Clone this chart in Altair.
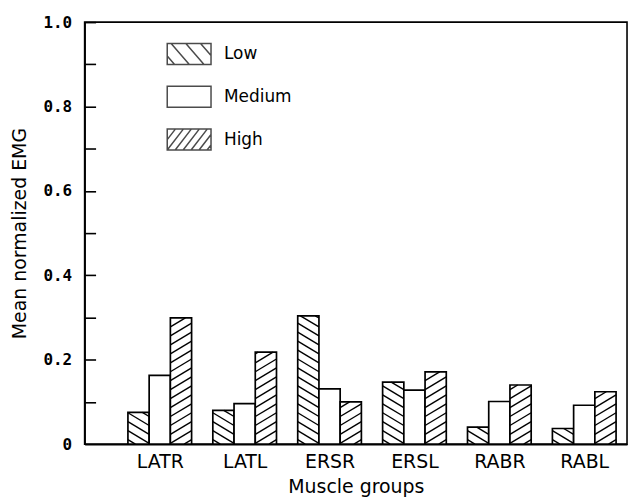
import json
import altair as alt
import pandas as pd

# ---- data ----
categories = ["LATR", "LATL", "ERSR", "ERSL", "RABR", "RABL"]
levels = ["Low", "Medium", "High"]
low = [0.075, 0.080, 0.304, 0.147, 0.040, 0.037]
medium = [0.163, 0.096, 0.131, 0.128, 0.101, 0.092]
high = [0.299, 0.218, 0.100, 0.171, 0.140, 0.124]
y_label_values = [0, 0.2, 0.4, 0.6, 0.8, 1.0]
y_tick_values = [0.1, 0.2, 0.3, 0.4, 0.5, 0.6, 0.7, 0.8, 0.9, 1.0]

# ---- layout / style ----
W, H = 545, 424
X_MIN, X_MAX = -0.885, 5.504
PX_X = W / (X_MAX - X_MIN)
PX_Y = H / 1.0
BAR_W = 0.25
offsets = {"Low": -0.25, "Medium": 0.0, "High": 0.25}
hatch_kind = {"Low": "back", "Medium": None, "High": "fwd"}
SANS = "DejaVu Sans"


def hatch(w, h, kind, slope, step, phase=0.5):
    """diagonal segments clipped to box [0,w]x[0,h] (y up)"""
    segs = []
    if kind is None:
        return segs
    if kind == "fwd":
        c = -slope * w + step * phase
        while c < h:
            x0 = max(0.0, -c / slope)
            x1 = min(w, (h - c) / slope)
            if x1 - x0 > 1e-6:
                segs.append((x0, slope * x0 + c, x1, slope * x1 + c))
            c += step
    else:
        c = step * phase
        while c < h + slope * w:
            x0 = max(0.0, (c - h) / slope)
            x1 = min(w, c / slope)
            if x1 - x0 > 1e-6:
                segs.append((x0, c - slope * x0, x1, c - slope * x1))
            c += step
    return segs


series = {"Low": low, "Medium": medium, "High": high}
bar_rows, hatch_rows = [], []
for lev in levels:
    for i, (cat, v) in enumerate(zip(categories, series[lev])):
        xl = i + offsets[lev] - BAR_W / 2
        xr = i + offsets[lev] + BAR_W / 2
        bar_rows.append(dict(category=cat, level=lev, x0=xl, x1=xr, value=v, zero=0.0))
        for (a, b, c, d) in hatch((xr - xl) * PX_X, v * PX_Y, hatch_kind[lev], 0.6, 9.0):
            hatch_rows.append(dict(hx=xl + a / PX_X, hy=b / PX_Y,
                                   hx2=xl + c / PX_X, hy2=d / PX_Y))
bars_df = pd.DataFrame(bar_rows)
hatch_df = pd.DataFrame(hatch_rows)

# legend symbols as SVG paths (unit = sqrt(size)/2 px)
SYM = 1600
s = SYM ** 0.5 / 2
bw, bh = 44.0, 21.0
legend_hatch = {"Low": ("back", 1.15, 17.0), "Medium": (None, 1, 1), "High": ("fwd", 1.3, 10.4)}
paths = []
for lev in levels:
    k, sl, st = legend_hatch[lev]
    p = f"M{-bw/2/s:.3f},{-bh/2/s:.3f}H{bw/2/s:.3f}V{bh/2/s:.3f}H{-bw/2/s:.3f}Z"
    for (a, b, c, d) in hatch(bw, bh, k, sl, st):
        p += (f"M{(a-bw/2)/s:.3f},{(bh/2-b)/s:.3f}"
              f"L{(c-bw/2)/s:.3f},{(bh/2-d)/s:.3f}")
    paths.append(p)

xscale = alt.Scale(domain=[X_MIN, X_MAX], nice=False, zero=False)
yscale = alt.Scale(domain=[0, 1], nice=False)
label_expr = json.dumps(categories) + "[round(datum.value)]"

x_axis = alt.Axis(values=list(range(len(categories))), labelExpr=label_expr,
                  ticks=False, grid=False, domainColor="black", domainWidth=1.6,
                  labelFont=SANS, labelFontSize=19, labelColor="black",
                  labelPadding=9, title="Muscle groups", titleFont=SANS,
                  titleFontSize=19, titleFontWeight="normal", titleColor="black",
                  titlePadding=6)

bars = alt.Chart(bars_df).mark_bar(fill="white", stroke="black", strokeWidth=1.7).encode(
    x=alt.X("x0:Q", scale=xscale, axis=x_axis),
    x2="x1:Q",
    y=alt.Y("value:Q", scale=yscale,
            axis=alt.Axis(values=y_label_values,
                          labelExpr="datum.value == 0 ? '0' : format(datum.value, '.1f')",
                          ticks=False, grid=False, domainColor="black", domainWidth=1.6,
                          labelFont="DejaVu Sans Mono", labelFontWeight="bold",
                          labelFontSize=16, labelColor="black", labelPadding=13,
                          title="Mean normalized EMG", titleFont=SANS, titleFontSize=19,
                          titleFontWeight="normal", titleColor="black", titlePadding=14)),
    y2="zero:Q",
)

hatches = alt.Chart(hatch_df).mark_rule(color="black", strokeWidth=1.4).encode(
    x=alt.X("hx:Q", scale=xscale, axis=x_axis),
    x2="hx2:Q",
    y=alt.Y("hy:Q", scale=yscale,
            axis=alt.Axis(orient="right", offset=-W, values=y_tick_values, labels=False,
                          domain=False, grid=False, ticks=True, tickSize=11,
                          tickColor="black", tickWidth=1.6, title=None)),
    y2="hy2:Q",
)

legend_layer = alt.Chart(bars_df).mark_point(
    clip=True, filled=True, fill="white", stroke="black", strokeWidth=2, size=SYM
).encode(
    x=alt.value(-1000),
    y=alt.value(-1000),
    shape=alt.Shape("level:N", scale=alt.Scale(domain=levels, range=paths),
                    legend=alt.Legend(title=None, orient="none", legendX=84, legendY=11,
                                      symbolSize=SYM, labelFont=SANS, labelFontSize=17,
                                      labelColor="black", labelOffset=14, rowPadding=8,
                                      padding=0)),
)

chart = alt.layer(bars, hatches, legend_layer).resolve_axis(y="independent").properties(
    width=W, height=H,
    background="white",
    autosize=alt.AutoSizeParams(type="none"),
    padding={"left": 77, "top": 13, "right": 5, "bottom": 58},
).configure_view(stroke="black", strokeWidth=1.6)

chart.save("out.html", embed_options={"renderer": "svg", "actions": False})
